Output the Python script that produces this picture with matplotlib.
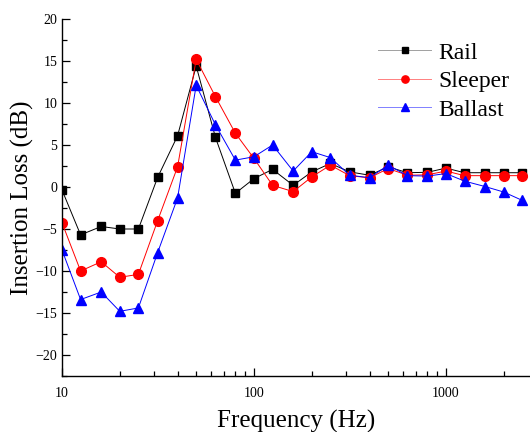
import numpy as np
import matplotlib.pyplot as plt
from matplotlib.ticker import MultipleLocator, LogLocator, NullFormatter

plt.rcParams['font.family'] = ['Liberation Serif', 'DejaVu Serif']

# 1/3 octave band centre frequencies (Hz)
freq = [10, 12.5, 16, 20, 25, 31.5, 40, 50, 63, 80, 100, 125, 160, 200, 250,
        315, 400, 500, 630, 800, 1000, 1250, 1600, 2000, 2500]

# insertion loss per band (dB)
rail = [-0.35, -5.7, -4.7, -5.0, -5.0, 1.15, 6.1, 14.4, 5.9, -0.75, 1.0, 2.1, 0.2, 1.8, 2.8,
        1.8, 1.4, 2.4, 1.7, 1.75, 2.25, 1.7, 1.7, 1.7, 1.7]
sleeper = [-4.25, -10.0, -8.9, -10.75, -10.4, -4.0, 2.4, 15.2, 10.75, 6.4, 3.4, 0.2, -0.55, 1.2, 2.6,
           1.35, 1.1, 2.2, 1.4, 1.45, 1.9, 1.35, 1.35, 1.35, 1.35]
ballast = [-7.5, -13.4, -12.5, -14.8, -14.4, -7.8, -1.3, 12.1, 7.4, 3.2, 3.6, 5.0, 1.9, 4.2, 3.5,
           1.4, 1.1, 2.6, 1.35, 1.3, 1.6, 0.7, 0.05, -0.6, -1.6]

fig = plt.figure(figsize=(5.3, 4.32), dpi=100)
ax = fig.add_axes([62/530, 56/432, 468/530, 357/432])

ax.plot(freq, rail, color='black', lw=0.7, marker='s', ms=5.5, mec='black', mfc='black', label='Rail')
ax.plot(freq, sleeper, color='red', lw=0.7, marker='o', ms=7, mec='red', mfc='red', label='Sleeper')
ax.plot(freq, ballast, color='blue', lw=0.7, marker='^', ms=7.5, mec='blue', mfc='blue', label='Ballast')

ax.set_xscale('log')
ax.set_xlim(10, 2740)
ax.set_ylim(-22.5, 20)
ax.yaxis.set_major_locator(MultipleLocator(5))
ax.yaxis.set_minor_locator(MultipleLocator(2.5))
ax.xaxis.set_minor_locator(LogLocator(base=10, subs=np.arange(2, 10)))
ax.xaxis.set_minor_formatter(NullFormatter())
ax.set_xticks([10, 100, 1000])
ax.set_xticklabels(['10', '100', '1000'])

ax.spines['top'].set_visible(False)
ax.spines['right'].set_visible(False)
ax.spines['left'].set_linewidth(1.0)
ax.spines['bottom'].set_linewidth(1.0)
ax.tick_params(which='both', direction='in', labelsize=10, width=0.9)
ax.tick_params(which='major', length=6)
ax.tick_params(which='minor', length=3.5)
ax.tick_params(axis='x', pad=8)

ax.set_xlabel('Frequency (Hz)', fontsize=18, labelpad=7)
ax.set_ylabel('Insertion Loss (dB)', fontsize=18, labelpad=1)

leg = ax.legend(loc='upper left', bbox_to_anchor=(378/530, 390/432), bbox_transform=fig.transFigure,
                frameon=False, fontsize=17, borderpad=0, borderaxespad=0, markerscale=0.75,
                handlelength=2.25, handletextpad=0.3, labelspacing=0.3)
# lighter lines in the legend handles, solid markers
for h, c in zip(leg.get_lines(), ['#a0a0a0', '#ff8080', '#8080ff']):
    h.set_color(c)
    h.set_markeredgecolor(h.get_markerfacecolor())

fig.savefig('out.png', dpi=100)
